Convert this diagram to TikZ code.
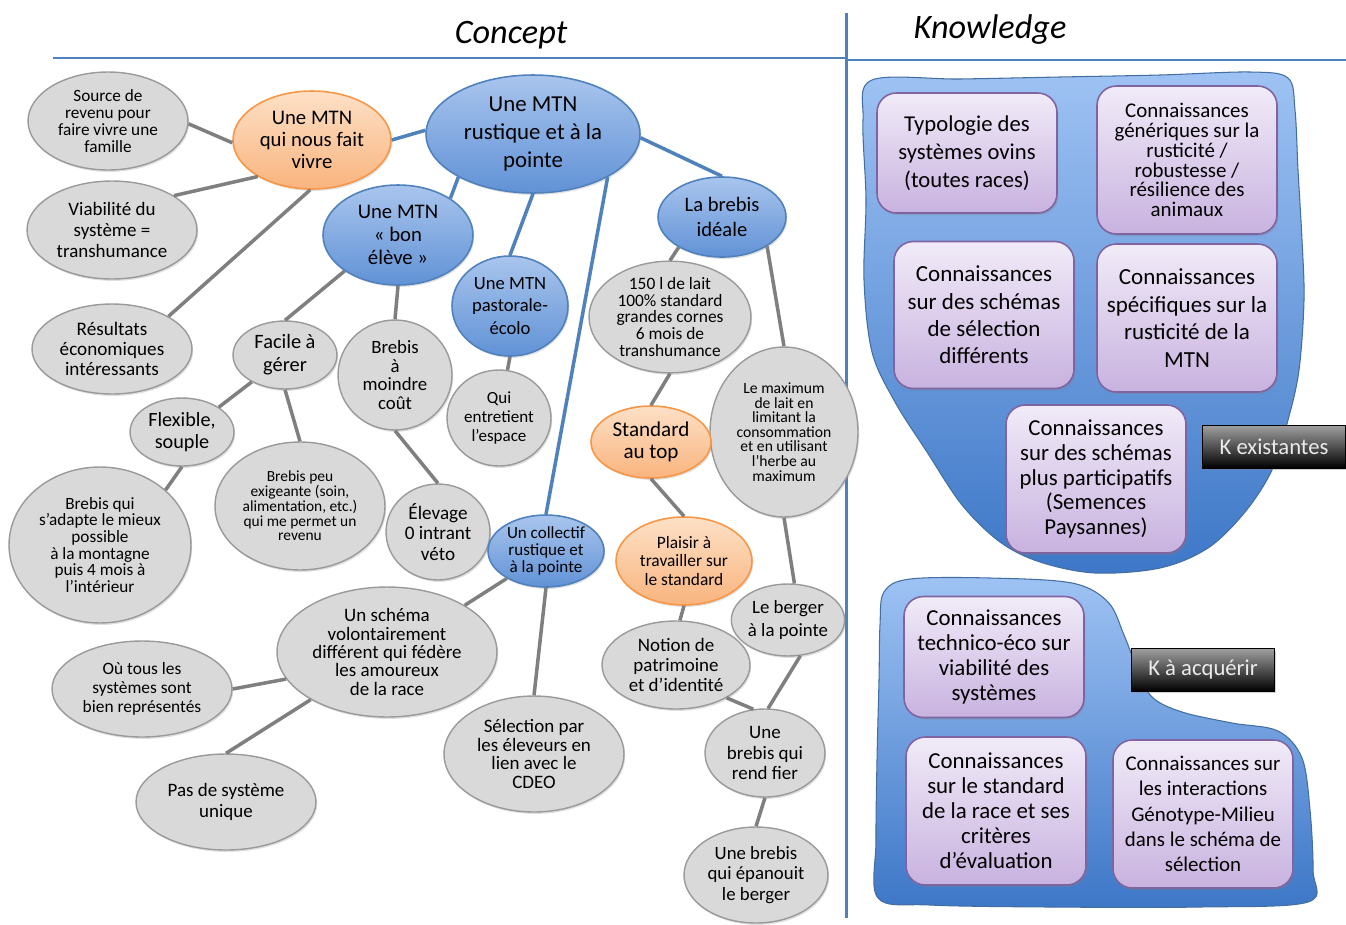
\documentclass[tikz,border=0pt]{standalone}
\usepackage{fontspec}
\setmainfont{Carlito}
\usepackage{tikz}
\usetikzlibrary{shapes.geometric,shadows}

\definecolor{bleutrait}{HTML}{4F81BD}
\definecolor{bleuclair}{HTML}{A9C5ED}
\definecolor{bleufonce}{HTML}{6192D6}
\definecolor{saumonclair}{HTML}{FDE0C6}
\definecolor{saumonfonce}{HTML}{F9B47E}
\definecolor{saumontrait}{HTML}{F79646}
\definecolor{mauveclair}{HTML}{F1EBF8}
\definecolor{mauvefonce}{HTML}{C8B2DF}
\definecolor{mauvetrait}{HTML}{8064A2}
\definecolor{blobclair}{HTML}{9EC2F3}
\definecolor{blobfonce}{HTML}{3D77C7}
\definecolor{grisfond}{HTML}{D9D9D9}
\definecolor{gristrait}{HTML}{9A9A9A}
\definecolor{grislien}{HTML}{7F7F7F}

\newcommand{\fsz}[2]{\fontsize{#1}{#2}\selectfont}

\tikzset{
    bulle/.style={ellipse, inner sep=0pt, align=center,
        drop shadow={opacity=0.25, shadow xshift=0.7pt, shadow yshift=-1.1pt}},
    gris/.style={bulle, fill=grisfond, draw=gristrait, line width=0.8pt},
    bleu/.style={bulle, top color=bleuclair, bottom color=bleufonce, draw=bleutrait, line width=0.9pt},
    saumon/.style={bulle, top color=saumonclair, bottom color=saumonfonce, draw=saumontrait, line width=0.9pt},
    kbox/.style={rectangle, rounded corners=11pt, inner sep=0pt, align=center,
        minimum width=3.6cm, minimum height=2.96cm,
        top color=mauveclair, bottom color=mauvefonce, draw=mauvetrait, line width=0.9pt,
        drop shadow={opacity=0.3, shadow xshift=0.8pt, shadow yshift=-1.2pt}},
    ketiq/.style={rectangle, inner sep=0pt, minimum width=2.86cm, minimum height=0.85cm,
        top color=black!38, bottom color=black, draw=black, line width=0.8pt,
        text=white!92!black, font=\fsz{12.9}{14},
        drop shadow={opacity=0.35, shadow xshift=0.8pt, shadow yshift=-1.2pt}},
    blob/.style={top color=blobclair, bottom color=blobfonce, draw=bleutrait!85!black, line width=0.6pt},
    lgris/.style={draw=grislien, line width=2pt},
    lbleu/.style={draw=bleutrait, line width=2pt},
    trait/.style={draw=bleutrait, line width=1.7pt}
}

\begin{document}
\begin{tikzpicture}[x=0.02cm, y=-0.02cm]
    \useasboundingbox (0,0) rectangle (1346,924);

    % titres et separations
    \node[font=\fsz{19.5}{22}\itshape] (concept) at (511,35) {Concept};
    \node[font=\fsz{19.5}{22}\itshape] (knowledge) at (990,30) {Knowledge};
    \draw[trait] (53,58) -- (845,58);
    \draw[trait] (846,60) -- (1346,60);
    \draw[trait] (846,13) -- (846,918);

    % concepts
    \node[bleu, minimum width=4.28cm, minimum height=2.36cm, font=\fsz{13}{15.9}] (root) at (533,134) {Une MTN\\rustique et à la\\pointe};
    \node[saumon, minimum width=3.16cm, minimum height=1.96cm, font=\fsz{11.8}{12.5}] (vivre) at (312,140) {Une MTN\\qui nous fait\\vivre};
    \node[gris, minimum width=3.2cm, minimum height=1.96cm, font=\fsz{9.8}{9.6}] (source) at (108,121) {Source de\\revenu pour\\faire vivre une\\famille};
    \node[gris, minimum width=3.4cm, minimum height=1.96cm, font=\fsz{10.8}{11.8}] (viab) at (112,230) {Viabilité du\\système =\\transhumance};
    \node[bleu, minimum width=3cm, minimum height=2cm, font=\fsz{11.8}{13.2}] (bon) at (398,235) {Une MTN\\«~bon\\élève~»};
    \node[bleu, minimum width=2.32cm, minimum height=2cm, font=\fsz{10.6}{13}] (past) at (510,306) {Une MTN\\pastorale-\\écolo};
    \node[bleu, minimum width=2.56cm, minimum height=1.6cm, font=\fsz{11.7}{14.5}] (ideale) at (722,217) {La brebis\\idéale};
    \node[gris, minimum width=3.2cm, minimum height=1.8cm, font=\fsz{10.9}{11.6}] (result) at (112,349) {Résultats\\économiques\\intéressants};
    \node[gris, minimum width=2.08cm, minimum height=1.36cm, font=\fsz{11.6}{12.9}] (facile) at (285,355) {Facile à\\gérer};
    \node[gris, minimum width=2.28cm, minimum height=2.2cm, font=\fsz{10.7}{10.6}] (moindre) at (395,375) {Brebis\\à\\moindre\\coût};
    \node[gris, minimum width=2.08cm, minimum height=1.92cm, font=\fsz{9.7}{10.7}] (espace) at (499,418) {Qui\\entretient\\l’espace};
    \node[gris, minimum width=3.24cm, minimum height=2.08cm, font=\fsz{9.9}{9.5}] (lait) at (670,317) {150 l de lait\\100\% standard\\grandes cornes\\6 mois de\\transhumance};
    \node[gris, minimum width=2.96cm, minimum height=3.4cm, font=\fsz{8.9}{8.3}] (maxi) at (784,432) {Le maximum\\de lait en\\limitant la\\consommation\\et en utilisant\\l’herbe au\\maximum};
    \node[gris, minimum width=2.08cm, minimum height=1.36cm, font=\fsz{11.5}{12.7}] (souple) at (182,432) {Flexible,\\souple};
    \node[gris, minimum width=3.4cm, minimum height=2.56cm, font=\fsz{8.8}{8.4}] (exig) at (300,506) {Brebis peu\\exigeante (soin,\\alimentation, etc.)\\qui me permet un\\revenu};
    \node[saumon, minimum width=2.4cm, minimum height=1.44cm, font=\fsz{12}{12.9}] (top) at (651,442) {Standard\\au top};
    \node[gris, minimum width=3.64cm, minimum height=3.12cm, font=\fsz{9.8}{9.5}] (adapte) at (100,545) {Brebis qui\\s’adapte le mieux\\possible\\à la montagne\\puis 4 mois à\\l’intérieur};
    \node[gris, minimum width=2.08cm, minimum height=1.92cm, font=\fsz{10.9}{11.5}] (intrant) at (438,532) {Élevage\\0 intrant\\véto};
    \node[bleu, minimum width=2.32cm, minimum height=1.44cm, font=\fsz{9.7}{9.6}] (collectif) at (546,551) {Un collectif\\rustique et\\à la pointe};
    \node[saumon, minimum width=2.72cm, minimum height=1.76cm, font=\fsz{9.9}{10.6}] (plaisir) at (684,561) {Plaisir à\\travailler sur\\le standard};
    \node[gris, minimum width=4.4cm, minimum height=2.6cm, font=\fsz{10.8}{10.4}] (schema) at (387,652) {Un schéma\\volontairement\\différent qui fédère\\les amoureux\\de la race};
    \node[gris, minimum width=2cm, minimum height=1.44cm, font=\fsz{10.7}{12.7}] (berger) at (788,620) {Le berger\\à la pointe};
    \node[gris, minimum width=2.96cm, minimum height=1.76cm, font=\fsz{10.8}{11.5}] (patri) at (676,665) {Notion de\\patrimoine\\et d’identité};
    \node[gris, minimum width=3.6cm, minimum height=1.92cm, font=\fsz{9.9}{10.9}] (tous) at (142,689) {Où tous les\\systèmes sont\\bien représentés};
    \node[gris, minimum width=3.6cm, minimum height=2.32cm, font=\fsz{10.8}{10.6}] (select) at (534,754) {Sélection par\\les éleveurs en\\lien avec le\\CDEO};
    \node[gris, minimum width=2.4cm, minimum height=1.76cm, font=\fsz{10.8}{11.5}] (fier) at (765,753) {Une\\brebis qui\\rend fier};
    \node[gris, minimum width=3.6cm, minimum height=1.92cm, font=\fsz{10.8}{12.3}] (unique) at (226,802) {Pas de système\\unique};
    \node[gris, minimum width=2.88cm, minimum height=1.92cm, font=\fsz{10.7}{11.6}] (epanouit) at (756,875) {Une brebis\\qui épanouit\\le berger};

    % liens
    \draw[lbleu] (vivre.0) -- (root.178);
    \draw[lbleu] (root.210) -- (bon.35);
    \draw[lbleu] (root.270) -- (past.90);
    \draw[lbleu] (root.330) -- (collectif.90);
    \draw[lbleu] (root.-2) -- (ideale.90);
    \draw[lgris] (source.-2) -- (vivre.182);
    \draw[lgris] (viab.29) -- (vivre.214);
    \draw[lgris] (vivre.268) -- (result.30);
    \draw[lgris] (bon.214) -- (facile.90);
    \draw[lgris] (bon.270) -- (moindre.90);
    \draw[lgris] (past.270) -- (espace.80);
    \draw[lgris] (ideale.215) -- (lait.90);
    \draw[lgris] (ideale.327) -- (maxi.90);
    \draw[lgris] (facile.219) -- (souple.34);
    \draw[lgris] (facile.270) -- (exig.90);
    \draw[lgris] (souple.270) -- (adapte.40);
    \draw[lgris] (moindre.270) -- (intrant.90);
    \draw[lgris] (lait.270) -- (top.90);
    \draw[lgris] (top.270) -- (plaisir.90);
    \draw[lgris] (maxi.270) -- (berger.80);
    \draw[lgris] (collectif.215) -- (schema.31);
    \draw[lgris] (collectif.270) -- (select.90);
    \draw[lgris] (plaisir.270) -- (patri.85);
    \draw[lgris] (patri.327) -- (fier.105);
    \draw[lgris] (berger.289) -- (fier.86);
    \draw[lgris] (fier.270) -- (epanouit.90);
    \draw[lgris] (schema.195) -- (tous.0);
    \draw[lgris] (schema.212) -- (unique.90);

    % connaissances
    \draw[blob] plot[smooth cycle, tension=0.55] coordinates {(872,80) (960,79) (1060,77) (1160,75) (1250,72) (1288,78) (1295,110)
        (1298,170) (1302,240) (1304,300) (1299,370) (1288,420) (1272,470) (1245,512) (1208,548) (1160,568) (1095,573)
        (1040,562) (1000,542) (962,505) (927,452) (895,402) (872,352) (864,280) (866,200) (863,120)};
    \draw[blob] plot[smooth cycle, tension=0.55] coordinates {(884,592) (910,579) (990,578) (1072,583) (1108,602) (1124,635)
        (1137,668) (1152,697) (1182,712) (1232,723) (1278,731) (1302,758) (1310,810) (1313,870) (1308,902) (1200,907)
        (1050,907) (930,905) (878,898) (876,840) (877,760) (879,680) (880,625)};

    \node[kbox, minimum height=2.4cm, font=\fsz{12.9}{15.8}] (typo) at (967,153) {Typologie des\\systèmes ovins\\(toutes races)};
    \node[kbox, font=\fsz{11.9}{11.3}] (generique) at (1187,160) {Connaissances\\génériques sur la\\rusticité /\\robustesse /\\résilience des\\animaux};
    \node[kbox, minimum height=2.94cm, font=\fsz{13.1}{15.6}] (schemas) at (984,315) {Connaissances\\sur des schémas\\de sélection\\différents};
    \node[kbox, font=\fsz{13.1}{15.8}] (specif) at (1187,318) {Connaissances\\spécifiques sur la\\rusticité de la\\MTN};
    \node[kbox, font=\fsz{13}{14}] (particip) at (1096,479) {Connaissances\\sur des schémas\\plus participatifs\\(Semences\\Paysannes)};
    \node[ketiq] (kexist) at (1274,447) {K existantes};

    \node[kbox, minimum height=2.42cm, font=\fsz{13}{14.1}] (technico) at (994,657) {Connaissances\\technico-éco sur\\viabilité des\\systèmes};
    \node[kbox, font=\fsz{13}{14.2}] (standard) at (996,811) {Connaissances\\sur le standard\\de la race et ses\\critères\\d’évaluation};
    \node[kbox, font=\fsz{11.9}{14.4}] (interact) at (1203,814) {Connaissances sur\\les interactions\\Génotype-Milieu\\dans le schéma de\\sélection};
    \node[ketiq] (kacq) at (1203,670) {K à acquérir};
\end{tikzpicture}
\end{document}
